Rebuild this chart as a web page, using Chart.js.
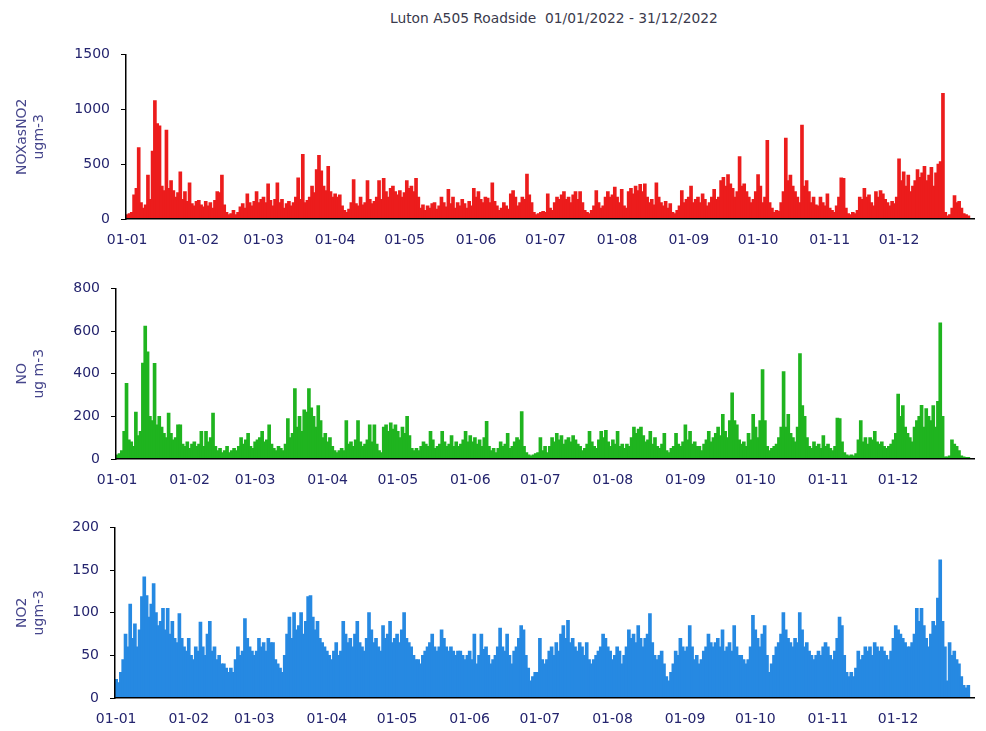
<!DOCTYPE html>
<html>
<head>
<meta charset="utf-8">
<script src="https://cdn.jsdelivr.net/npm/chart.js@4.4.0/dist/chart.umd.min.js"></script>
<style>
  body { margin: 0; background: #fff; }
  #wrap { position: relative; width: 986px; height: 731px; overflow: hidden; background: #fff; }
  #titulo { position: absolute; top: 10px; left: 390px; white-space: nowrap;
            font-family: "DejaVu Sans", sans-serif; font-size: 13.8px; color: #3a3a4c; }
  canvas { position: absolute; left: 0; }
</style>
</head>
<body>
<div id="wrap">
  <div id="titulo">Luton A505 Roadside&nbsp; 01/01/2022 - 31/12/2022</div>
  <canvas id="noxChart" width="986" height="214" style="top:35px"></canvas>
  <canvas id="noChart" width="986" height="220" style="top:269px"></canvas>
  <canvas id="no2Chart" width="986" height="220" style="top:508px"></canvas>
</div>
<script>
// tick labels (day-month) and the day index where each month starts
var monthLabels = ['01-01', '01-02', '01-03', '01-04', '01-05', '01-06',
                   '01-07', '01-08', '01-09', '01-10', '01-11', '01-12'];
var monthStart = [0, 31, 59, 90, 120, 151, 181, 212, 243, 273, 304, 334];

// daily peak values, one line per month
var noxValues = [
  40, 50, 60, 220, 280, 650, 150, 100, 130, 400, 180, 620, 1080, 870, 850, 300, 260, 810, 280, 350, 260, 200, 240, 430, 180, 250, 160, 330, 140, 120, 160,
  170, 130, 110, 160, 120, 150, 100, 170, 250, 240, 400, 130, 60, 40, 50, 80, 40, 60, 110, 140, 100, 230, 150, 120, 160, 250, 150, 180,
  200, 150, 320, 170, 120, 180, 330, 150, 180, 100, 140, 160, 120, 150, 200, 375, 180, 590, 150, 170, 200, 300, 240, 450, 580, 440, 300, 260, 480, 250, 200,
  230, 200, 220, 120, 80, 60, 90, 150, 360, 140, 120, 200, 130, 150, 350, 180, 140, 160, 200, 350, 180, 370, 250, 200, 280, 300, 250, 220, 260, 200,
  240, 350, 280, 300, 250, 370, 200, 100, 130, 80, 120, 100, 140, 150, 90, 120, 200, 150, 110, 270, 140, 200, 100, 150, 120, 180, 140, 100, 160, 120, 280,
  200, 250, 180, 150, 200, 190, 150, 330, 160, 120, 80, 100, 150, 120, 90, 230, 260, 200, 120, 150, 200, 180, 410, 220, 150, 60, 40, 50, 60, 70,
  60, 230, 100, 80, 150, 200, 180, 220, 250, 180, 200, 150, 220, 250, 180, 250, 150, 80, 60, 50, 80, 120, 260, 150, 100, 120, 200, 250, 200, 220, 290,
  200, 150, 270, 120, 100, 250, 280, 230, 300, 260, 316, 250, 320, 200, 150, 180, 130, 330, 200, 150, 120, 160, 100, 140, 60, 50, 80, 120, 260, 150, 180,
  200, 300, 150, 180, 200, 150, 230, 180, 120, 150, 200, 270, 180, 200, 350, 380, 300, 405, 320, 280, 200, 250, 568, 300, 320, 250, 200, 150, 180, 250,
  405, 300, 150, 200, 716, 150, 100, 60, 80, 70, 150, 250, 737, 350, 400, 300, 250, 200, 150, 855, 300, 350, 250, 150, 200, 130, 120, 200, 150, 120, 230,
  100, 80, 60, 120, 200, 375, 370, 100, 50, 40, 60, 50, 80, 200, 180, 280, 200, 220, 150, 120, 250, 200, 260, 230, 180, 150, 120, 160, 140, 200,
  548, 350, 430, 300, 400, 250, 300, 350, 450, 380, 420, 480, 350, 400, 470, 300, 420, 500, 524, 1145, 60, 30, 40, 100, 213, 150, 160, 100, 50, 40, 30
];

var noValues = [
  20, 25, 40, 130, 355, 90, 80, 60, 220, 110, 130, 450, 623, 502, 200, 180, 449, 160, 200, 150, 120, 100, 215, 120, 90, 100, 160, 160, 70, 60, 80,
  50, 70, 80, 60, 70, 130, 60, 130, 80, 100, 215, 60, 40, 50, 30, 40, 60, 30, 40, 50, 40, 60, 100, 70, 90, 120, 60, 50,
  80, 90, 100, 130, 80, 90, 160, 70, 50, 40, 60, 50, 40, 70, 190, 100, 120, 330, 150, 200, 130, 230, 220, 330, 240, 200, 150, 250, 180, 100, 120,
  80, 100, 60, 40, 30, 40, 50, 40, 180, 70, 80, 60, 90, 180, 80, 60, 70, 90, 160, 80, 160, 70, 40, 30, 150, 160, 130, 170, 140, 160,
  130, 100, 150, 120, 200, 110, 50, 40, 50, 40, 60, 80, 70, 60, 130, 90, 50, 60, 70, 130, 80, 60, 70, 110, 60, 80, 60, 70, 90, 130, 80,
  110, 80, 100, 70, 90, 60, 100, 177, 60, 40, 50, 30, 50, 80, 60, 70, 120, 50, 60, 80, 100, 90, 222, 60, 30, 20, 15, 20, 25, 30,
  100, 40, 60, 30, 60, 100, 80, 120, 90, 110, 70, 90, 100, 80, 110, 90, 70, 60, 40, 50, 70, 130, 80, 60, 50, 90, 130, 100, 135, 80, 60,
  90, 70, 130, 60, 70, 50, 70, 60, 100, 150, 120, 140, 150, 110, 80, 90, 130, 70, 100, 60, 50, 70, 120, 40, 30, 50, 60, 120, 70, 60, 80,
  160, 90, 130, 70, 80, 60, 60, 40, 70, 90, 130, 80, 100, 120, 150, 110, 210, 130, 100, 180, 310, 180, 160, 90, 70, 80, 60, 120, 90, 210,
  150, 100, 180, 419, 180, 60, 40, 50, 60, 70, 100, 150, 410, 150, 210, 120, 100, 80, 150, 494, 250, 200, 100, 60, 50, 80, 60, 70, 50, 110, 60,
  70, 50, 40, 60, 192, 190, 80, 30, 20, 15, 20, 15, 25, 90, 180, 80, 100, 70, 100, 90, 130, 80, 70, 80, 60, 50, 60, 70, 90, 120,
  305, 200, 250, 150, 120, 100, 80, 150, 180, 200, 252, 150, 237, 200, 180, 250, 150, 270, 638, 200, 10, 10, 15, 90, 70, 60, 40, 15, 10, 8, 8
];

var no2Values = [
  22, 18, 30, 45, 75, 60, 110, 70, 87, 60, 80, 119, 142, 120, 95, 110, 134, 100, 85, 90, 105, 80, 105, 75, 90, 70, 65, 99, 70, 60, 55,
  70, 50, 45, 60, 55, 89, 60, 50, 75, 90, 55, 60, 45, 50, 40, 40, 35, 30, 35, 30, 45, 60, 50, 55, 93, 70, 60, 55,
  50, 55, 70, 60, 65, 55, 70, 65, 65, 45, 40, 35, 30, 50, 75, 95, 70, 100, 80, 85, 100, 75, 90, 119, 120, 95, 80, 90, 70, 65, 60,
  55, 50, 45, 55, 65, 50, 55, 90, 75, 65, 70, 60, 75, 90, 65, 60, 55, 70, 100, 80, 65, 70, 60, 55, 85, 70, 75, 90, 65, 70,
  75, 65, 80, 100, 70, 65, 60, 50, 45, 45, 40, 50, 55, 60, 65, 75, 60, 55, 60, 80, 70, 60, 55, 60, 55, 50, 55, 55, 50, 45, 50,
  55, 45, 75, 40, 50, 75, 57, 60, 50, 40, 45, 50, 60, 82, 60, 55, 75, 50, 40, 55, 60, 70, 85, 80, 50, 35, 20, 25, 30, 30,
  70, 45, 40, 45, 55, 60, 50, 65, 55, 75, 85, 70, 91, 65, 70, 60, 55, 65, 60, 50, 65, 45, 40, 45, 50, 55, 60, 75, 70, 60, 55,
  45, 50, 60, 55, 40, 50, 60, 80, 70, 75, 65, 85, 70, 60, 70, 75, 99, 65, 50, 45, 50, 55, 40, 25, 20, 30, 40, 55, 50, 70, 60,
  55, 60, 85, 60, 45, 50, 40, 45, 55, 60, 75, 65, 60, 65, 70, 60, 80, 55, 60, 65, 55, 85, 60, 50, 50, 45, 40, 45, 60, 97,
  80, 70, 60, 75, 85, 50, 30, 40, 50, 60, 65, 75, 100, 80, 70, 65, 60, 70, 65, 100, 80, 60, 65, 55, 50, 45, 50, 55, 50, 60, 65,
  60, 50, 45, 55, 70, 95, 85, 50, 30, 25, 30, 25, 35, 55, 45, 50, 60, 55, 60, 50, 65, 60, 55, 60, 55, 50, 45, 55, 70, 85,
  80, 75, 70, 65, 60, 60, 65, 75, 105, 90, 105, 85, 70, 60, 75, 90, 85, 117, 162, 90, 60, 20, 65, 50, 55, 45, 40, 25, 15, 12, 15
];

// the time axis runs a couple of days past 31/12
var nDays = 367;
var labels = [];
for (var i = 0; i < nDays; i++) {
    var m = monthStart.indexOf(i);
    labels.push(m >= 0 ? monthLabels[m] : '');
}

var tickColor = '#24246e';
var titleColor = '#46468c';
var axisFont = { family: 'DejaVu Sans', size: 14 };

function dibujaPanel(canvasId, values, color, yMax, yStep, yTitle, axisWidth) {
    var ctx = document.getElementById(canvasId).getContext('2d');
    return new Chart(ctx, {
        type: 'bar',
        data: {
            labels: labels,
            datasets: [{
                data: values,
                backgroundColor: color,
                borderWidth: 0,
                barThickness: 3
            }]
        },
        options: {
            responsive: false,
            animation: false,
            devicePixelRatio: 1,
            layout: { padding: { top: 14, right: 0, bottom: 0, left: 0 } },
            plugins: { legend: { display: false }, tooltip: { enabled: false } },
            scales: {
                x: {
                    grid: { display: false, drawTicks: false },
                    border: { display: true, color: '#000', width: 1.5, z: 1 },
                    ticks: { autoSkip: false, maxRotation: 0, minRotation: 0, padding: 13,
                             color: tickColor, font: axisFont },
                    afterFit: function (s) { s.height = 30; }
                },
                y: {
                    min: 0,
                    max: yMax,
                    ticks: { stepSize: yStep, padding: 11, color: tickColor, font: axisFont,
                             callback: function (v) { return String(v); } },
                    grid: { drawOnChartArea: false, drawTicks: true, tickLength: 5, color: '#000' },
                    border: { display: true, color: '#000', width: 1.5, z: 1 },
                    title: { display: true, text: yTitle, color: titleColor, font: axisFont,
                             padding: { top: 14, bottom: 0 } },
                    afterFit: function (s) { s.width = axisWidth; }
                }
            }
        }
    });
}

dibujaPanel('noxChart', noxValues, '#ec1c1c', 1500, 500, ['NOXasNO2', 'ugm-3'], 126);
dibujaPanel('noChart', noValues, '#1fb41f', 800, 200, ['NO', 'ug m-3'], 116);
dibujaPanel('no2Chart', no2Values, '#2689e2', 200, 50, ['NO2', 'ugm-3'], 115);
</script>
</body>
</html>
